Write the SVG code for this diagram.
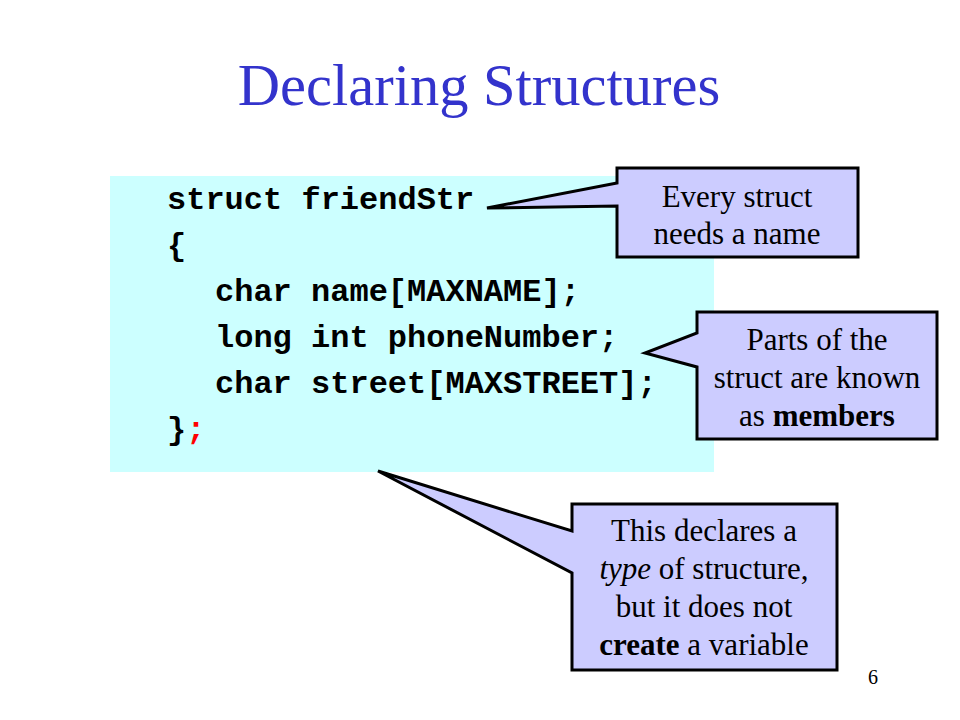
<svg xmlns="http://www.w3.org/2000/svg" width="960" height="720" viewBox="0 0 960 720">
<style>
.title{font-family:"Liberation Serif","Times New Roman",serif;font-size:58.5px;fill:#3333CC;text-anchor:middle}
.code{font-family:"Liberation Mono","Courier New",monospace;font-size:32px;font-weight:bold;fill:#000}
.call{fill:#CCCCFF;stroke:#000;stroke-width:3}
.ct{font-family:"Liberation Serif","Times New Roman",serif;font-size:31px;fill:#000;text-anchor:middle}
.pg{font-family:"Liberation Serif","Times New Roman",serif;font-size:20px;fill:#000;text-anchor:middle}
</style>
<rect width="960" height="720" fill="#FFFFFF"/>
<text class="title" x="479" y="105">Declaring Structures</text>
<g id="code">
<rect x="110" y="176" width="604" height="296" fill="#CCFFFF"/>
<text class="code" x="167" y="209">struct friendStr</text>
<text class="code" x="167" y="255">{</text>
<text class="code" x="215" y="301">char name[MAXNAME];</text>
<text class="code" x="215" y="347">long int phoneNumber;</text>
<text class="code" x="215" y="393">char street[MAXSTREET];</text>
<text class="code" x="167" y="439">}<tspan fill="#FF0000">;</tspan></text>
</g>
<g id="connectors">
</g>
<g id="callout-name">
<polygon class="call" points="617,168 858,168 858,257 617,257 617,206 487,208 617,183"/>
<text class="ct" x="737" y="207">Every struct</text>
<text class="ct" x="737" y="244">needs a name</text>
</g>
<g id="callout-members">
<polygon class="call" points="697,312 937,312 937,439 697,439 697,367 645,353 697,333"/>
<text class="ct" x="817" y="350">Parts of the</text>
<text class="ct" x="817" y="388">struct are known</text>
<text class="ct" x="817" y="426">as <tspan font-weight="bold">members</tspan></text>
</g>
<g id="callout-type">
<polygon class="call" points="572,504 837,504 837,670 572,670 572,573 378,471 572,531"/>
<text class="ct" x="704" y="541">This declares a</text>
<text class="ct" x="704" y="579"><tspan font-style="italic">type</tspan> of structure,</text>
<text class="ct" x="704" y="617">but it does not</text>
<text class="ct" x="704" y="655"><tspan font-weight="bold">create</tspan> a variable</text>
</g>
<text class="pg" x="873" y="684">6</text>
</svg>
